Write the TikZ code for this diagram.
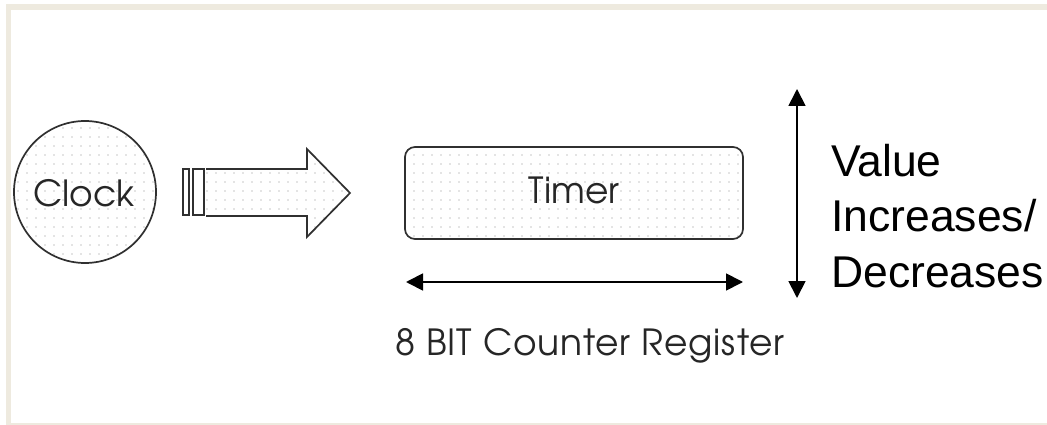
\documentclass[tikz,border=0pt]{standalone}
\usepackage{fontspec}
\setmainfont{TeX Gyre Adventor}
\newfontfamily\labelfont{Liberation Sans}
\usetikzlibrary{arrows.meta,patterns.meta}
\definecolor{framebeige}{HTML}{EEEADF}
\definecolor{outline}{HTML}{303030}
\tikzset{
  dotfill/.style={pattern={Dots[distance=9pt,radius=0.7pt]},pattern color=black!45},
  shapeline/.style={draw=outline,line width=1.7pt},
  gothic/.style={font=\fontsize{36}{40}\selectfont,text=black!85,inner sep=0pt},
  dimarrow/.style={line width=1.8pt,{Triangle[length=17pt,width=17pt]}-{Triangle[length=17pt,width=17pt]}},
}
\begin{document}
\begin{tikzpicture}[x=1pt,y=-1pt]
  % page and frame bands
  \fill[white] (0,0) rectangle (1047,425);
  \useasboundingbox (0,0) rectangle (1047,425);
  \fill[framebeige] (6,4) rectangle (1047,10);
  \fill[framebeige] (6,4) rectangle (11,425);
  \fill[framebeige] (6,423) rectangle (1047,425);

  % clock source
  \node[circle,minimum size=142pt,inner sep=0pt,dotfill,shapeline] (clock) at (85,192) {};
  \node[gothic,anchor=base] (clocktext) at (84,206) {Clock};

  % block arrow towards the timer
  \draw[shapeline,fill=white] (183,169) rectangle (189,215);
  \draw[shapeline,fill=white] (193,169) rectangle (204,215);
  \path[dotfill] (206,169) -- (307,169) -- (307,149) -- (350,193) -- (307,237) -- (307,216) -- (206,216) -- cycle;
  \draw[shapeline,line join=miter] (206,169) -- (307,169) -- (307,149) -- (350,193) -- (307,237) -- (307,216) -- (206,216);

  % timer register
  \node[rectangle,rounded corners=10pt,minimum width=338pt,minimum height=92pt,dotfill,shapeline] (timer) at (574,193) {};
  \node[gothic,anchor=base] (timertext) at (574,203) {Timer};

  % width of the register
  \coordinate (wl) at (406,282);
  \coordinate (wr) at (743,282);
  \draw[dimarrow] (wl) -- (wr);
  \node[gothic,anchor=base] (width) at (590,355) {\addfontfeature{LetterSpace=2.5}8 BIT Counter Register};

  % range of the value
  \coordinate (vt) at (797,89);
  \coordinate (vb) at (797,298);
  \draw[dimarrow] (vt) -- (vb);
  \node[anchor=base west,inner sep=0pt,font=\labelfont\fontsize{44.5}{55.5}\selectfont,align=left] (range) at (831,287) {Value\\Increases/\\Decreases};
\end{tikzpicture}
\end{document}
